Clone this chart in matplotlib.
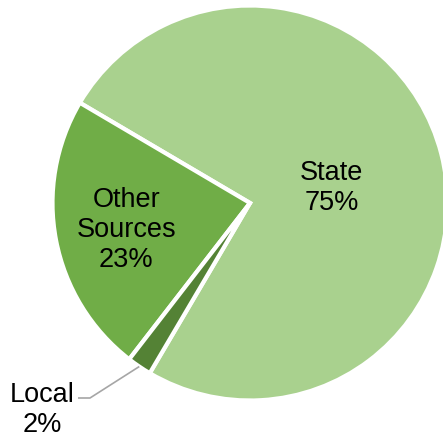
import numpy as np
import matplotlib.pyplot as plt

plt.rcParams['font.family'] = ['Liberation Sans', 'DejaVu Sans']

# Funding shares
sources = ['State', 'Other\nSources', 'Local']
shares = [75, 23, 2]
colors = ['#A9D18E', '#70AD47', '#548235']

W, H = 443, 439
fig = plt.figure(figsize=(W / 100, H / 100), dpi=100)
ax = fig.add_axes([0, 0, 1, 1])

# pie center / radius in pixel units (axes spans the whole figure)
cx, cy, R = 250, H - 204, 197.5
wedges, _ = ax.pie(shares, colors=colors, startangle=239.5, counterclock=True,
                   center=(cx, cy), radius=R,
                   wedgeprops=dict(edgecolor='white', linewidth=3))
ax.set_xlim(0, W)
ax.set_ylim(0, H)
ax.set_aspect('auto')
ax.axis('off')


def polar(angle, frac):
    a = np.deg2rad(angle)
    return cx + frac * R * np.cos(a), cy + frac * R * np.sin(a)


# inside labels
label_pos = {0: (11.0, 0.42), 1: (191.9, 0.64)}
for i, (ang, frac) in label_pos.items():
    x, y = polar(ang, frac)
    ax.text(x, y, f'{sources[i]}\n{shares[i]}%', ha='center', va='center',
            fontsize=19.5, color='black', linespacing=1.2)

# small slice label with leader line
w = wedges[2]
mid = (w.theta1 + w.theta2) / 2
x0, y0 = polar(mid, 1.0)
x1, y1 = 90, H - 399
ax.plot([x0, x1, x1 - 12], [y0, y1, y1], color='#A6A6A6', lw=1.2,
        solid_capstyle='butt', clip_on=False)
ax.text(42, H - 410, f'{sources[2]}\n{shares[2]}%', ha='center', va='center',
        fontsize=19.5, color='black', linespacing=1.2)

fig.savefig('out.png', dpi=100)
